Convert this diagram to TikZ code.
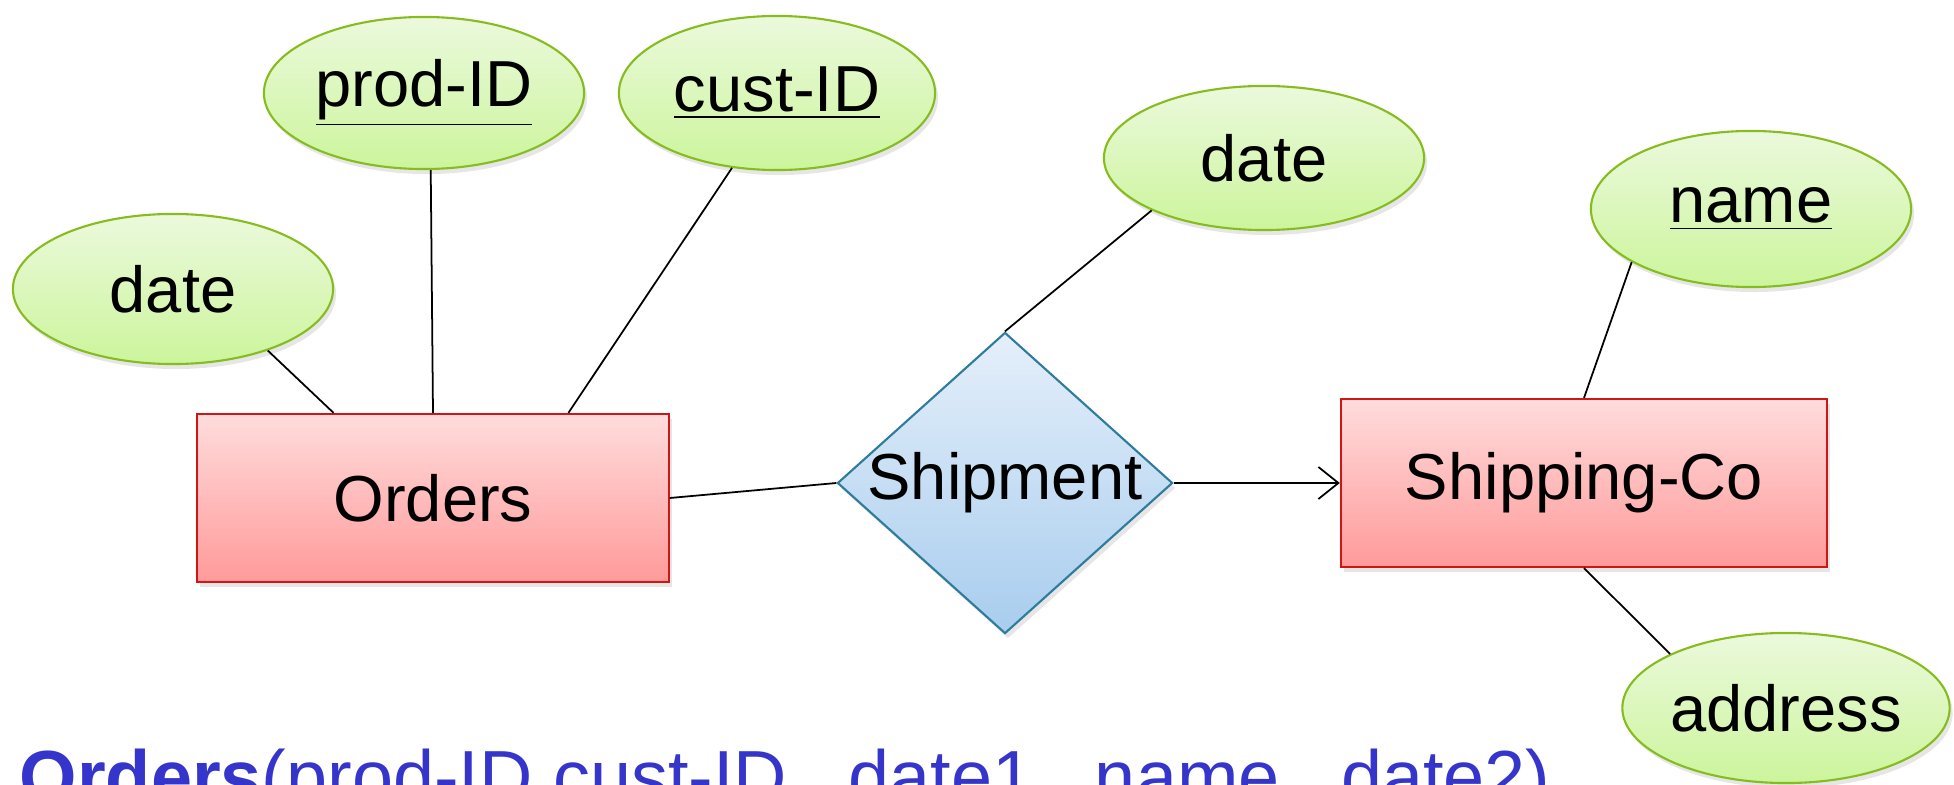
\documentclass[tikz,border=0pt]{standalone}
\usepackage{fontspec}
\setmainfont{Liberation Sans}
\usepackage{xcolor}
\usepackage{tikz}
\usetikzlibrary{calc,shapes.geometric,arrows.meta,shadows}
\definecolor{attrtop}{HTML}{EBF9DC}
\definecolor{attrbot}{HTML}{CCF59C}
\definecolor{attrline}{HTML}{86BC1E}
\definecolor{enttop}{HTML}{FFDCDC}
\definecolor{entbot}{HTML}{FF9A9A}
\definecolor{entline}{HTML}{D01515}
\definecolor{reltop}{HTML}{E5EFFA}
\definecolor{relbot}{HTML}{A8CDEE}
\definecolor{relline}{HTML}{2E7C9C}
\definecolor{keyblue}{HTML}{3535CC}
\tikzset{
  lbl/.style={font=\fontsize{18.5}{22}\selectfont, text=black},
  attr/.style={lbl, ellipse, draw=attrline, line width=0.6pt, top color=attrtop, bottom color=attrbot,
    inner sep=0pt, minimum width=3.2cm, minimum height=1.5cm,
    drop shadow={opacity=0.2, shadow xshift=0.03cm, shadow yshift=-0.05cm}},
  entity/.style={lbl, rectangle, draw=entline, line width=0.6pt, top color=enttop, bottom color=entbot,
    inner sep=0pt, minimum height=1.68cm,
    drop shadow={opacity=0.2, shadow xshift=0.03cm, shadow yshift=-0.05cm}},
  relship/.style={lbl, diamond, draw=relline, line width=0.6pt, top color=reltop, bottom color=relbot,
    inner sep=0pt, minimum width=3.35cm, minimum height=3.01cm,
    drop shadow={opacity=0.2, shadow xshift=0.03cm, shadow yshift=-0.05cm}},
  link/.style={draw=black, line width=0.5pt}
}
\begin{document}
\begin{tikzpicture}[x=0.01cm, y=-0.01cm]
  \useasboundingbox (0,0) rectangle (1954,785);
  \clip (0,0) rectangle (1954,785);

  % entity sets and the relationship
  \node[entity, minimum width=4.71cm] (orders) at (433,498) {Orders};
  \node[entity, minimum width=4.86cm] (shipco) at (1584,483) {Shipping-Co};
  \node[relship] (shipment) at (1005,483) {\makebox[0pt]{Shipment}};

  % attributes
  \node[attr] (date1) at (173,289) {date};
  \node[attr, minimum height=1.52cm] (prodid) at (424,93) {\underline{prod-ID}};
  \node[attr, minimum width=3.16cm, minimum height=1.54cm] (custid) at (777,93) {\underline{cust-ID}};
  \node[attr, minimum height=1.44cm] (date2) at (1264,158) {date};
  \node[attr, minimum height=1.56cm] (name) at (1751,209) {\underline{name}};
  \node[attr, minimum width=3.18cm] (address) at (1786,708) {address};

  \draw[link] (date1.327) -- ($(orders.north west)!0.29!(orders.north east)$);
  \draw[link] (prodid.275) -- (orders.north);
  \draw[link] (custid.239) -- ($(orders.north west)!0.786!(orders.north east)$);
  \draw[link] (orders.east) -- (shipment.west);
  \draw[link] (shipment.north) -- (date2.205);
  \draw[link, -{Straight Barb[length=2mm, width=3.2mm]}] (shipment.east) -- (shipco.west);
  \draw[link] (shipco.north) -- (name.204);
  \draw[link] (shipco.south) -- (address.155);

  % relation schema, cut by the lower edge
  \node[anchor=base west, text=keyblue, inner sep=0pt, font=\fontsize{21}{25}\selectfont] (schema) at (19,802)
    {\textbf{Orders}(prod-ID,cust-ID,~ date1,~ name,~ date2)};
\end{tikzpicture}
\end{document}
